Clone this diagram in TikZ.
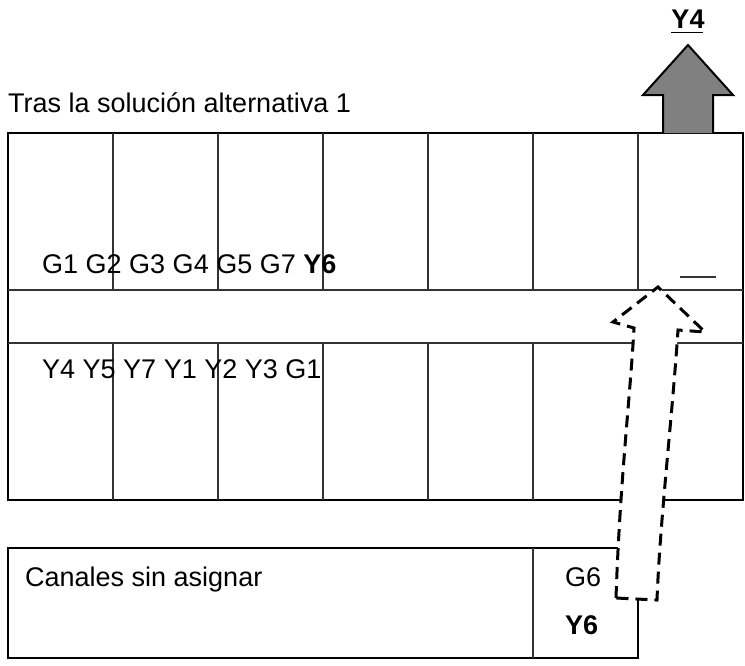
\documentclass[tikz,border=0pt]{standalone}
\usepackage{fontspec}
\setmainfont{Liberation Sans}
\usetikzlibrary{positioning}
\tikzset{
  lbl/.style={anchor=base west, inner sep=0pt, font=\fontsize{27}{31}\selectfont},
  grid/.style={draw=black!80, line width=1.2pt},
  frame/.style={draw=black, line width=2pt}
}
\begin{document}
\begin{tikzpicture}[x=1pt,y=-1pt]
	\useasboundingbox (0,0) rectangle (745,665);
	\draw[frame] (8,133) rectangle (743,500);
	\draw[grid] (8,290) -- (743,290);
	\draw[grid] (8,343) -- (743,343);
	\foreach \x in {113,218,323,428,533,638} {
		\draw[grid] (\x,133) -- (\x,290);
		\draw[grid] (\x,343) -- (\x,500);
	}
	\node[lbl] (title) at (8,112) {Tras la solución alternativa 1};
	\node[lbl] (upper) at (42,273) {G1 G2 G3 G4 G5 G7 \textbf{Y6}};
	\node[lbl] (lower) at (42,378) {Y4 Y5 Y7 Y1 Y2 Y3 G1};
	\draw[grid] (680,277) -- (716,277);
	%
	\draw[frame] (8,548) rectangle (638,658);
	\draw[grid] (533,548) -- (533,658);
	\node[lbl] (canales) at (25,586) {Canales sin asignar};
	\node[lbl] (g6) at (565,586) {G6};
	\node[lbl] (y6) at (565,634) {\textbf{Y6}};
	%
	\draw[frame, fill=black!50] (663,133) -- (663,95) -- (643,95) -- (688,45)
		-- (733,95) -- (713,95) -- (713,133);
	\node[lbl, anchor=base] (y4) at (688,28) {\textbf{Y4}};
	\draw[line width=1.4pt] (y4.south west) ++(0,4) -- ++(32,0);
	%
	\draw[fill=white, line width=3pt, dash pattern=on 12pt off 7pt]
		(616,598) .. controls (620,480) and (630,400) .. (634,328) -- (613,322)
		-- (658,287) -- (705,332) -- (678,330)
		.. controls (672,420) and (660,520) .. (657,600) -- cycle;
\end{tikzpicture}
\end{document}
